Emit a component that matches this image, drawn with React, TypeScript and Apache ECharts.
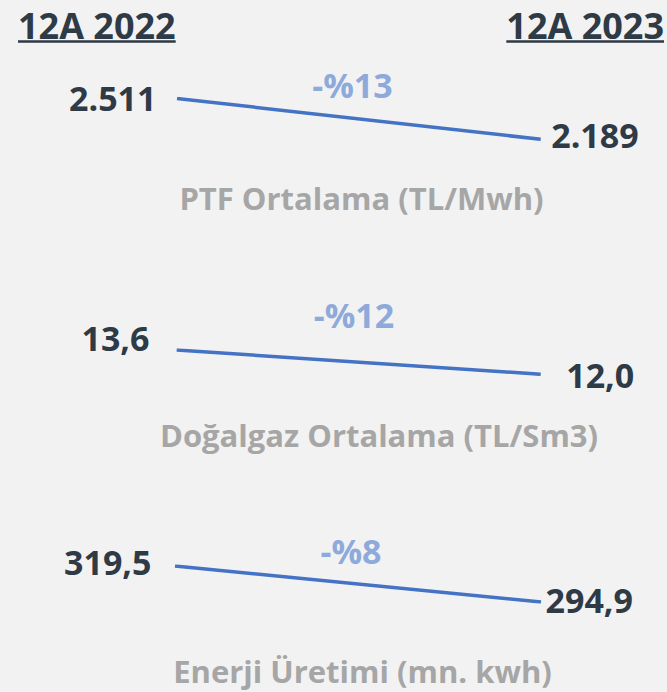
import React, { useEffect, useRef } from 'react';
import * as echarts from 'echarts';

// ---- data ----
const periods = ['12A 2022', '12A 2023'];
const metrics = ['PTF Ortalama (TL/Mwh)', 'Doğalgaz Ortalama (TL/Sm3)', 'Enerji Üretimi (mn. kwh)'];
const values2022 = [2511, 13.6, 319.5];
const values2023 = [2189, 12.0, 294.9];
const changeLabels = ['-%13', '-%12', '-%8'];

// ---- layout / style (not data) ----
const W = 667;
const H = 692;
const FONT = '"Open Sans", sans-serif';
const DARK = '#2e3a46';
const GREY = '#a6a6a6';
const PCT = '#8eaadb';
const LINE = '#4472c4';
const BG = '#f2f2f2';

const panels = [
  { top: 98.5, height: 40.8, left: 177, right: 126.3, lDist: 20, lDy: -1, rDist: 10, rDy: -4, pctX: 352.5, pctY: 85, titleX: 361.5, titleY: 198 },
  { top: 350, height: 24.3, left: 176.7, right: 126.3, lDist: 26.7, lDy: -12, rDist: 25, rDy: 1, pctX: 354, pctY: 315, titleX: 379, titleY: 435 },
  { top: 566, height: 36, left: 175, right: 126, lDist: 23, lDy: -4.5, rDist: 4, rDy: -2, pctX: 351, pctY: 550.5, titleX: 362.5, titleY: 671 },
];

function fmt(v: number): string {
  if (Math.abs(v) >= 1000) {
    const s = Math.round(v).toString();
    return s.replace(/\B(?=(\d{3})+(?!\d))/g, '.');
  }
  return v.toFixed(1).replace('.', ',');
}

function measure(text: string, font: string): number {
  const c = document.createElement('canvas');
  const ctx = c.getContext('2d');
  if (!ctx) return text.length * 20;
  ctx.font = font;
  return ctx.measureText(text).width;
}

export default function App() {
  const ref = useRef<HTMLDivElement>(null);
  useEffect(() => {
    if (!ref.current) return;
    const chart = echarts.init(ref.current, undefined, { renderer: 'svg' });

    const headerSize = 36;
    const headerFont = `bold ${headerSize}px ${FONT}`;
    const w0 = measure(periods[0], headerFont);
    const w1 = measure(periods[1], headerFont);
    const hx0 = 18;
    const hx1 = 664;
    const headerY = 25;
    const underlineY = 41.5;

    const grids = panels.map((p) => ({ top: p.top, height: p.height, left: p.left, right: p.right }));
    const xAxes = panels.map((_, i) => ({ type: 'category', gridIndex: i, data: periods, boundaryGap: false, show: false }));
    const yAxes = panels.map((_, i) => ({ type: 'value', gridIndex: i, min: 'dataMin', max: 'dataMax', scale: true, show: false }));
    const labelStyle = { show: true, color: DARK, fontFamily: FONT, fontWeight: 'bold', fontSize: 34, formatter: (pr: any) => fmt(pr.value) };
    const series = panels.map((p, i) => ({
      type: 'line',
      xAxisIndex: i,
      yAxisIndex: i,
      symbol: 'circle',
      symbolSize: 1,
      itemStyle: { color: 'rgba(0,0,0,0)' },
      lineStyle: { color: LINE, width: 3.5 },
      data: [
        { value: values2022[i], label: { ...labelStyle, position: 'left', distance: p.lDist, offset: [0, p.lDy] } },
        { value: values2023[i], label: { ...labelStyle, position: 'right', distance: p.rDist, offset: [0, p.rDy] } },
      ],
    }));

    const graphics: any[] = [
      { type: 'text', x: hx0, y: headerY, style: { text: periods[0], font: headerFont, fill: DARK, textAlign: 'left', textVerticalAlign: 'middle' } },
      { type: 'text', x: hx1, y: headerY, style: { text: periods[1], font: headerFont, fill: DARK, textAlign: 'right', textVerticalAlign: 'middle' } },
      { type: 'line', shape: { x1: hx0, y1: underlineY, x2: hx0 + w0, y2: underlineY }, style: { stroke: DARK, lineWidth: 2.5 } },
      { type: 'line', shape: { x1: hx1 - w1, y1: underlineY, x2: hx1, y2: underlineY }, style: { stroke: DARK, lineWidth: 2.5 } },
    ];
    panels.forEach((p, i) => {
      graphics.push({ type: 'text', x: p.pctX, y: p.pctY, style: { text: changeLabels[i], font: `bold 34px ${FONT}`, fill: PCT, textAlign: 'center', textVerticalAlign: 'middle' } });
      graphics.push({ type: 'text', x: p.titleX, y: p.titleY, style: { text: metrics[i], font: `bold 31px ${FONT}`, fill: GREY, textAlign: 'center', textVerticalAlign: 'middle' } });
    });

    chart.setOption({
      animation: false,
      backgroundColor: BG,
      grid: grids,
      xAxis: xAxes,
      yAxis: yAxes,
      series,
      graphic: graphics,
    });
    return () => chart.dispose();
  }, []);
  return <div ref={ref} style={{ position: 'absolute', left: 0, top: 0, width: W, height: H }} />;
}
